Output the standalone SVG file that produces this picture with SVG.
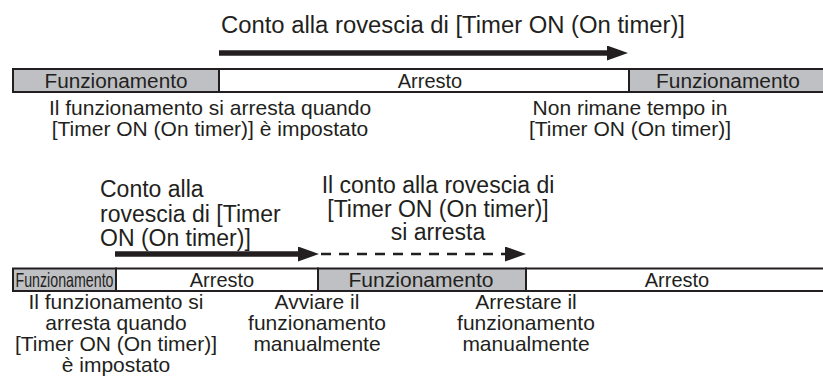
<svg xmlns="http://www.w3.org/2000/svg" width="823" height="381" viewBox="0 0 823 381">
<style>
text{font-family:"Liberation Sans",Arial,Helvetica,sans-serif;fill:#231f20}
.t{font-size:23px}
.d{font-size:21px;text-anchor:middle}
.b{font-size:20px;text-anchor:middle}
.on{fill:#bfc0c4;stroke:#231f20;stroke-width:2}
.off{fill:#ffffff;stroke:#231f20;stroke-width:2}
.solid{stroke:#231f20;stroke-width:5.5;fill:none}
.dash{stroke:#231f20;stroke-width:2.5;fill:none;stroke-dasharray:10 8}
</style>
<defs>
<marker id="ah" markerUnits="userSpaceOnUse" markerWidth="22" markerHeight="16" refX="3" refY="7.5" orient="auto">
<path d="M0,0 L21,7.5 L0,15 Z" fill="#231f20"/>
</marker>
</defs>

<g id="title1"><text class="t" x="221" y="33" textLength="464" lengthAdjust="spacingAndGlyphs">Conto alla rovescia di [Timer ON (On timer)]</text></g>

<g id="bar1-seg1"><rect class="on" x="13" y="69" width="206" height="23"/><text class="b" x="116" y="88" textLength="143" lengthAdjust="spacingAndGlyphs">Funzionamento</text></g>
<g id="bar1-seg2"><rect class="off" x="219" y="69" width="410" height="23"/><text class="b" x="430" y="88">Arresto</text></g>
<g id="bar1-seg3"><rect class="on" x="629" y="69" width="196" height="23"/><text class="b" x="728" y="88" textLength="144" lengthAdjust="spacingAndGlyphs">Funzionamento</text></g>

<g id="note1"><text class="d" x="210" y="115">Il funzionamento si arresta quando</text><text class="d" x="210" y="136">[Timer ON (On timer)] è impostato</text></g>
<g id="note2"><text class="d" x="630" y="115">Non rimane tempo in</text><text class="d" x="630" y="136">[Timer ON (On timer)]</text></g>

<g id="label2"><text class="t" x="100" y="196.5">Conto alla</text><text class="t" x="100" y="221.5">rovescia di [Timer</text><text class="t" x="100" y="246">ON (On timer)]</text></g>
<g id="label3"><text class="t" x="438" y="193" text-anchor="middle">Il conto alla rovescia di</text><text class="t" x="438" y="216.5" text-anchor="middle">[Timer ON (On timer)]</text><text class="t" x="438" y="240" text-anchor="middle">si arresta</text></g>

<g id="bar2-seg1"><rect class="on" x="13" y="268.5" width="103" height="22.5"/><text x="64.5" y="287" font-size="21" text-anchor="middle" textLength="98" lengthAdjust="spacingAndGlyphs">Funzionamento</text></g>
<g id="bar2-seg2"><rect class="off" x="116" y="268.5" width="202" height="22.5"/><text class="b" x="222" y="287">Arresto</text></g>
<g id="bar2-seg3"><rect class="on" x="318" y="268.5" width="208" height="22.5"/><text class="b" x="421" y="287" textLength="145" lengthAdjust="spacingAndGlyphs">Funzionamento</text></g>
<g id="bar2-seg4"><rect class="off" x="526" y="268.5" width="299" height="22.5"/><text class="b" x="677" y="287">Arresto</text></g>

<g id="note3"><text class="d" x="116" y="309">Il funzionamento si</text><text class="d" x="116" y="330">arresta quando</text><text class="d" x="116" y="351">[Timer ON (On timer)]</text><text class="d" x="116" y="372">è impostato</text></g>
<g id="note4"><text class="d" x="317" y="309">Avviare il</text><text class="d" x="317" y="330">funzionamento</text><text class="d" x="317" y="351">manualmente</text></g>
<g id="note5"><text class="d" x="526" y="309">Arrestare il</text><text class="d" x="526" y="330">funzionamento</text><text class="d" x="526" y="351">manualmente</text></g>

<g id="connectors">
<path class="solid" d="M219,53 H610" marker-end="url(#ah)"/>
<path class="solid" d="M115,254 H301" marker-end="url(#ah)"/>
<path class="dash" d="M321,254 H508" marker-end="url(#ah)"/>
</g>
</svg>
